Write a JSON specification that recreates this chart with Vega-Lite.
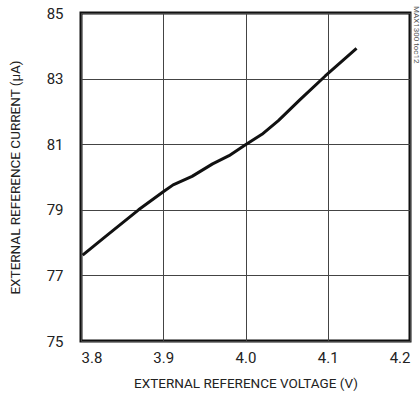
{
  "$schema": "https://vega.github.io/schema/vega-lite/v6.json",
  "width": 329,
  "height": 328,
  "autosize": "none",
  "padding": {"left": 81, "top": 13, "right": 10, "bottom": 60},
  "background": "white",
  "title": {
    "text": "MAX1300 toc12",
    "orient": "right",
    "anchor": "start",
    "angle": 90,
    "offset": 2,
    "fontSize": 8,
    "font": "Roboto",
    "fontWeight": "normal",
    "color": "#555555"
  },
  "config": {
    "view": {"stroke": "#111111", "strokeWidth": 3},
    "axis": {
      "grid": true,
      "gridColor": "#444444",
      "gridWidth": 1,
      "domain": false,
      "ticks": false,
      "labelFont": "Roboto",
      "labelFontSize": 15,
      "labelColor": "#222222",
      "titleFont": "Roboto",
      "titleFontSize": 13.5,
      "titleFontWeight": "normal",
      "titleColor": "#222222"
    }
  },
  "data": {
    "values": [
      {"v": 3.802, "i": 77.62},
      {"v": 3.83, "i": 78.19},
      {"v": 3.87, "i": 79.0},
      {"v": 3.9, "i": 79.55},
      {"v": 3.912, "i": 79.76},
      {"v": 3.935, "i": 80.02},
      {"v": 3.96, "i": 80.40},
      {"v": 3.98, "i": 80.65},
      {"v": 4.0, "i": 80.98},
      {"v": 4.02, "i": 81.30},
      {"v": 4.04, "i": 81.72},
      {"v": 4.066, "i": 82.35},
      {"v": 4.097, "i": 83.08},
      {"v": 4.135, "i": 83.92}
    ]
  },
  "mark": {"type": "line", "color": "#111111", "strokeWidth": 3, "strokeJoin": "round"},
  "encoding": {
    "x": {
      "field": "v",
      "type": "quantitative",
      "scale": {"domain": [3.8, 4.2], "nice": false, "zero": false},
      "axis": {
        "values": [3.8, 3.9, 4.0, 4.1, 4.2],
        "format": ".1f",
        "labelPadding": 9,
        "title": "EXTERNAL REFERENCE VOLTAGE (V)",
        "titlePadding": 11
      }
    },
    "y": {
      "field": "i",
      "type": "quantitative",
      "scale": {"domain": [75, 85], "nice": false, "zero": false},
      "axis": {
        "values": [75, 77, 79, 81, 83, 85],
        "labelPadding": 18,
        "title": "EXTERNAL REFERENCE CURRENT (µA)",
        "titlePadding": 24
      }
    }
  }
}
